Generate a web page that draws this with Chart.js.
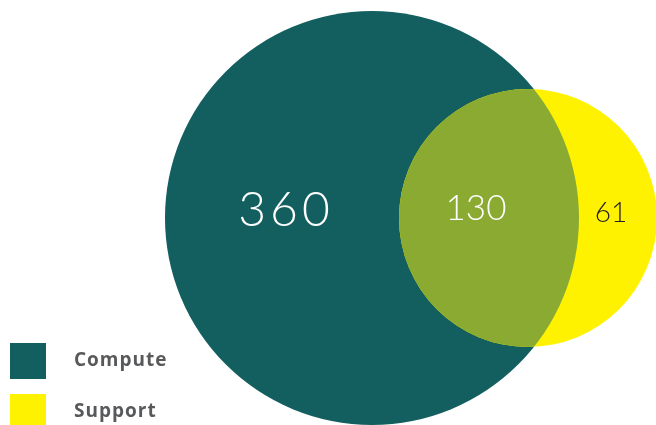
<!DOCTYPE html>
<html>
<head>
<meta charset="utf-8">
<script src="https://cdn.jsdelivr.net/npm/chart.js@4/dist/chart.umd.min.js"></script>
<style>
  html, body { margin: 0; padding: 0; background: #fff; }
  #wrap { position: relative; width: 656px; height: 425px; }
</style>
</head>
<body>
<div id="wrap"><canvas id="c" width="656" height="425"></canvas></div>
<script>
// Data
const setNames = ['Compute', 'Support'];
const setOnlyCounts = [360, 61];
const overlapCount = 130;
// Circle layout in chart units (chart units map 1:1 to the canvas)
const circleX = [372, 528];
const circleY = [218, 218];
const circleR = [207, 129];

const colors = ['#135f60', '#fff200'];
const overlapColor = '#8aaa32';

function label(ctx, text, x, y, font, color, spacing) {
  ctx.font = font;
  ctx.fillStyle = color;
  ctx.letterSpacing = spacing + 'px';
  ctx.fillText(text, x + spacing / 2, y);
  ctx.letterSpacing = '0px';
}

const vennPlugin = {
  id: 'venn',
  afterDatasetsDraw(chart) {
    const ctx = chart.ctx;
    const els = chart.getDatasetMeta(0).data;
    const a = els[0], b = els[1];
    const ra = a.options.radius, rb = b.options.radius;
    ctx.save();
    ctx.beginPath();
    ctx.arc(a.x, a.y, ra, 0, Math.PI * 2);
    ctx.clip();
    ctx.beginPath();
    ctx.arc(b.x, b.y, rb, 0, Math.PI * 2);
    ctx.fillStyle = overlapColor;
    ctx.fill();
    ctx.restore();

    const xs = chart.scales.x, ys = chart.scales.y;
    ctx.save();
    ctx.textAlign = 'center';
    ctx.textBaseline = 'middle';
    label(ctx, String(setOnlyCounts[0]), xs.getPixelForValue(284), ys.getPixelForValue(211),
      '300 48px Lato, "Open Sans", sans-serif', '#ffffff', 4);
    label(ctx, String(overlapCount), xs.getPixelForValue(476), ys.getPixelForValue(209),
      '300 35px Lato, "Open Sans", sans-serif', '#ffffff', 0);
    label(ctx, String(setOnlyCounts[1]), xs.getPixelForValue(611), ys.getPixelForValue(213),
      '300 28px Lato, "Open Sans", sans-serif', '#231f20', 0);

    const legY = [361, 412];
    ctx.textAlign = 'left';
    setNames.forEach((n, i) => {
      ctx.fillStyle = colors[i];
      ctx.fillRect(10, legY[i] - 18, 36, 36);
      ctx.font = 'bold 19px "Open Sans", Lato, sans-serif';
      ctx.fillStyle = '#58595b';
      ctx.letterSpacing = '1px';
      ctx.fillText(n, 74, legY[i]);
      ctx.letterSpacing = '0px';
    });
    ctx.restore();
  }
};

new Chart(document.getElementById('c'), {
  type: 'bubble',
  data: {
    datasets: [{
      data: setNames.map((n, i) => ({ x: circleX[i], y: circleY[i], r: circleR[i] })),
      backgroundColor: colors,
      borderWidth: 0,
      hoverRadius: 0,
      clip: false
    }]
  },
  options: {
    responsive: false,
    animation: false,
    events: [],
    layout: { padding: 0, autoPadding: false },
    plugins: { legend: { display: false }, tooltip: { enabled: false } },
    scales: {
      x: { type: 'linear', min: 0, max: 656, display: false },
      y: { type: 'linear', min: 0, max: 425, reverse: true, display: false }
    }
  },
  plugins: [vennPlugin]
});
</script>
</body>
</html>
